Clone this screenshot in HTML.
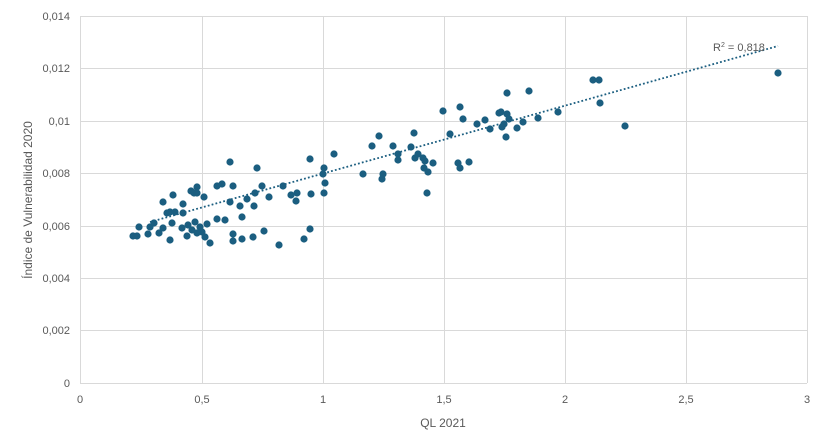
<!DOCTYPE html>
<html><head><meta charset="utf-8"><style>body{margin:0;background:#fff}svg{display:block}text{font-family:"Liberation Sans",sans-serif;fill:#595959}</style></head><body>
<svg width="827" height="447" xmlns="http://www.w3.org/2000/svg">
<g stroke="#d9d9d9" stroke-width="1">
<line x1="80" y1="16.5" x2="807" y2="16.5"/><line x1="80" y1="68.5" x2="807" y2="68.5"/><line x1="80" y1="121.5" x2="807" y2="121.5"/><line x1="80" y1="173.5" x2="807" y2="173.5"/><line x1="80" y1="226.5" x2="807" y2="226.5"/><line x1="80" y1="278.5" x2="807" y2="278.5"/><line x1="80" y1="330.5" x2="807" y2="330.5"/><line x1="80" y1="383.5" x2="807" y2="383.5"/>
<line x1="80.5" y1="16" x2="80.5" y2="383"/><line x1="202.5" y1="16" x2="202.5" y2="383"/><line x1="323.5" y1="16" x2="323.5" y2="383"/><line x1="444.5" y1="16" x2="444.5" y2="383"/><line x1="565.5" y1="16" x2="565.5" y2="383"/><line x1="686.5" y1="16" x2="686.5" y2="383"/><line x1="807.5" y1="16" x2="807.5" y2="383"/>
</g>
<g font-size="11" text-anchor="end">
<text x="70" y="20">0,014</text><text x="70" y="72">0,012</text><text x="70" y="125">0,01</text><text x="70" y="177">0,008</text><text x="70" y="230">0,006</text><text x="70" y="282">0,004</text><text x="70" y="334">0,002</text><text x="70" y="387">0</text>
</g>
<g font-size="11" text-anchor="middle">
<text x="80" y="403">0</text><text x="202" y="403">0,5</text><text x="323" y="403">1</text><text x="444" y="403">1,5</text><text x="565" y="403">2</text><text x="686" y="403">2,5</text><text x="807" y="403">3</text>
</g>
<text x="443" y="427" font-size="12" text-anchor="middle">QL 2021</text>
<text transform="translate(32,200) rotate(-90)" font-size="12" text-anchor="middle">Índice de Vulnerabilidad 2020</text>
<g fill="#1b5e80">
<circle cx="133" cy="236" r="3.6"/><circle cx="137" cy="236" r="3.6"/><circle cx="139" cy="227" r="3.6"/><circle cx="148" cy="234" r="3.6"/><circle cx="150" cy="227" r="3.6"/><circle cx="154" cy="223" r="3.6"/><circle cx="159" cy="233" r="3.6"/><circle cx="163" cy="228" r="3.6"/><circle cx="163" cy="202" r="3.6"/><circle cx="167" cy="213" r="3.6"/><circle cx="170" cy="212" r="3.6"/><circle cx="175" cy="212" r="3.6"/><circle cx="172" cy="223" r="3.6"/><circle cx="170" cy="240" r="3.6"/><circle cx="173" cy="195" r="3.6"/><circle cx="183" cy="213" r="3.6"/><circle cx="183" cy="204" r="3.6"/><circle cx="182" cy="228" r="3.6"/><circle cx="187" cy="236" r="3.6"/><circle cx="188" cy="225" r="3.6"/><circle cx="191" cy="191" r="3.6"/><circle cx="194" cy="193" r="3.6"/><circle cx="197" cy="187" r="3.6"/><circle cx="197" cy="193" r="3.6"/><circle cx="192" cy="230" r="3.6"/><circle cx="195" cy="222" r="3.6"/><circle cx="200" cy="227" r="3.6"/><circle cx="202" cy="232" r="3.6"/><circle cx="197" cy="233" r="3.6"/><circle cx="204" cy="197" r="3.6"/><circle cx="207" cy="224" r="3.6"/><circle cx="205" cy="237" r="3.6"/><circle cx="210" cy="243" r="3.6"/><circle cx="217" cy="186" r="3.6"/><circle cx="222" cy="184" r="3.6"/><circle cx="217" cy="219" r="3.6"/><circle cx="225" cy="220" r="3.6"/><circle cx="230" cy="162" r="3.6"/><circle cx="233" cy="186" r="3.6"/><circle cx="230" cy="202" r="3.6"/><circle cx="233" cy="234" r="3.6"/><circle cx="233" cy="241" r="3.6"/><circle cx="240" cy="206" r="3.6"/><circle cx="242" cy="217" r="3.6"/><circle cx="242" cy="239" r="3.6"/><circle cx="247" cy="199" r="3.6"/><circle cx="253" cy="237" r="3.6"/><circle cx="255" cy="193" r="3.6"/><circle cx="254" cy="206" r="3.6"/><circle cx="257" cy="168" r="3.6"/><circle cx="262" cy="186" r="3.6"/><circle cx="264" cy="231" r="3.6"/><circle cx="269" cy="197" r="3.6"/><circle cx="279" cy="245" r="3.6"/><circle cx="283" cy="186" r="3.6"/><circle cx="291" cy="195" r="3.6"/><circle cx="297" cy="193" r="3.6"/><circle cx="296" cy="201" r="3.6"/><circle cx="304" cy="239" r="3.6"/><circle cx="310" cy="229" r="3.6"/><circle cx="311" cy="194" r="3.6"/><circle cx="310" cy="159" r="3.6"/>
<circle cx="334" cy="154" r="3.6"/><circle cx="324" cy="168" r="3.6"/><circle cx="323" cy="174" r="3.6"/><circle cx="325" cy="183" r="3.6"/><circle cx="324" cy="193" r="3.6"/><circle cx="363" cy="174" r="3.6"/><circle cx="372" cy="146" r="3.6"/><circle cx="379" cy="136" r="3.6"/><circle cx="382" cy="179" r="3.6"/><circle cx="383" cy="174" r="3.6"/><circle cx="393" cy="146" r="3.6"/><circle cx="398" cy="154" r="3.6"/><circle cx="398" cy="160" r="3.6"/><circle cx="411" cy="147" r="3.6"/><circle cx="414" cy="133" r="3.6"/><circle cx="415" cy="158" r="3.6"/><circle cx="418" cy="154" r="3.6"/><circle cx="423" cy="158" r="3.6"/><circle cx="425" cy="161" r="3.6"/><circle cx="424" cy="168" r="3.6"/><circle cx="428" cy="172" r="3.6"/><circle cx="433" cy="163" r="3.6"/><circle cx="427" cy="193" r="3.6"/><circle cx="443" cy="111" r="3.6"/><circle cx="450" cy="134" r="3.6"/><circle cx="458" cy="163" r="3.6"/><circle cx="460" cy="168" r="3.6"/><circle cx="469" cy="162" r="3.6"/><circle cx="460" cy="107" r="3.6"/><circle cx="463" cy="119" r="3.6"/><circle cx="477" cy="124" r="3.6"/><circle cx="485" cy="120" r="3.6"/><circle cx="490" cy="129" r="3.6"/><circle cx="499" cy="113" r="3.6"/><circle cx="501" cy="112" r="3.6"/><circle cx="507" cy="93" r="3.6"/><circle cx="507" cy="114" r="3.6"/><circle cx="509" cy="119" r="3.6"/><circle cx="504" cy="124" r="3.6"/><circle cx="502" cy="127" r="3.6"/><circle cx="506" cy="137" r="3.6"/><circle cx="517" cy="128" r="3.6"/><circle cx="523" cy="122" r="3.6"/><circle cx="529" cy="91" r="3.6"/><circle cx="538" cy="118" r="3.6"/><circle cx="558" cy="112" r="3.6"/><circle cx="593" cy="80" r="3.6"/><circle cx="599" cy="80" r="3.6"/><circle cx="600" cy="103" r="3.6"/><circle cx="625" cy="126" r="3.6"/><circle cx="778" cy="73" r="3.6"/>
</g>
<line x1="150" y1="222" x2="778" y2="46" stroke="#1b5e80" stroke-width="1.8" stroke-dasharray="1.8 2.2"/>
<text x="713" y="51" font-size="11" fill="#404040">R<tspan font-size="7" dy="-4">2</tspan><tspan dy="4"> = 0,818</tspan></text>
</svg>
</body></html>
